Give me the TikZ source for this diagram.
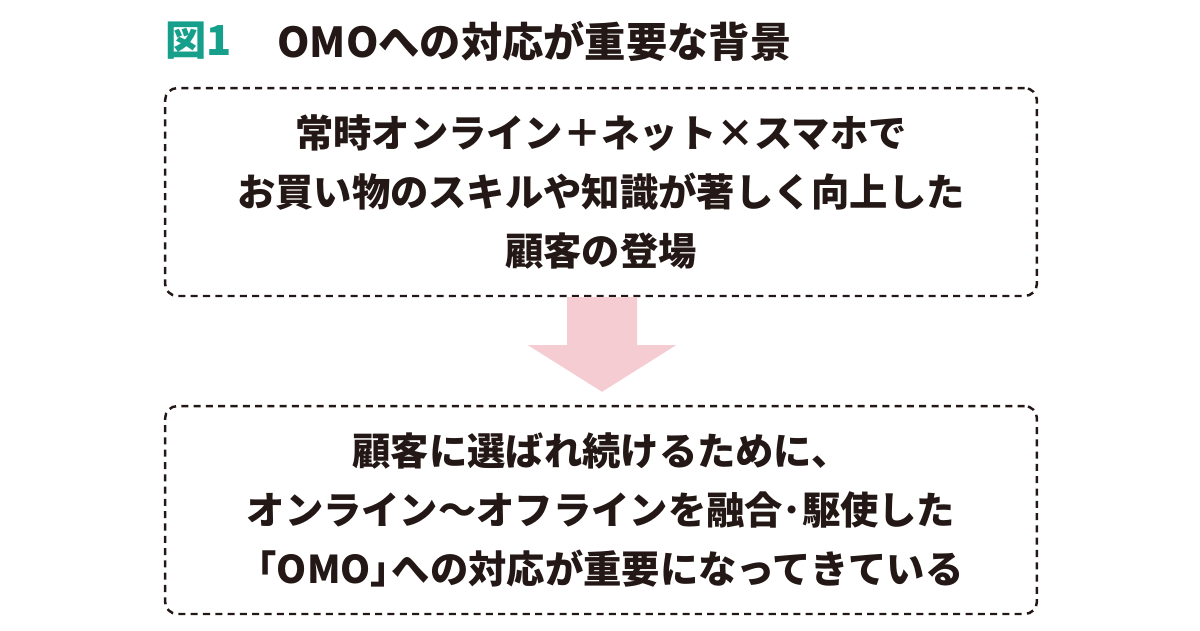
\documentclass[tikz,border=0pt]{standalone}
\usepackage{fontspec}
\setmainfont{Noto Sans CJK JP}
\usepackage{tikz}
\usetikzlibrary{calc}
\definecolor{inkcol}{RGB}{35,24,21}
\definecolor{figcol}{RGB}{22,160,140}
\definecolor{arrowcol}{RGB}{246,204,211}
\tikzset{
  dashbox/.style={draw=inkcol,line width=1.4pt,dash pattern=on 4pt off 3pt,
    rounded corners=7pt,minimum width=17.44cm,minimum height=4.16cm,
    align=center,text=inkcol,font=\fontsize{21.8}{33.5}\selectfont\bfseries},
  headtext/.style={anchor=west,inner sep=0pt,font=\fontsize{23.5}{28}\selectfont\bfseries}
}
\begin{document}
\begin{tikzpicture}[x=0.02cm,y=-0.02cm]
\useasboundingbox (0,0) rectangle (1200,630);
\node[headtext,text=figcol] (fignum) at (165,41) {図1};
\node[headtext,text=inkcol] (figtitle) at (277,41) {OMOへの対応が重要な背景};
\node[dashbox] (upper) at (601,192) {常時オンライン＋ネット×スマホで\\お買い物のスキルや知識が著しく向上した\\顧客の登場};
\node[dashbox] (lower) at (601,510) {顧客に選ばれ続けるために、\\オンライン〜オフラインを融合･駆使した\\「OMO」\kern-0.45em への対応が重要になってきている};
\fill[arrowcol] ($(upper.south)+(-34,0)$) -- ($(upper.south)+(36,0)$) -- ($(upper.south)+(36,48)$)
  -- ($(upper.south)+(75,48)$) -- ($(lower.north)+(1,-13)$) -- ($(upper.south)+(-73,48)$)
  -- ($(upper.south)+(-34,48)$) -- cycle;
\end{tikzpicture}
\end{document}
